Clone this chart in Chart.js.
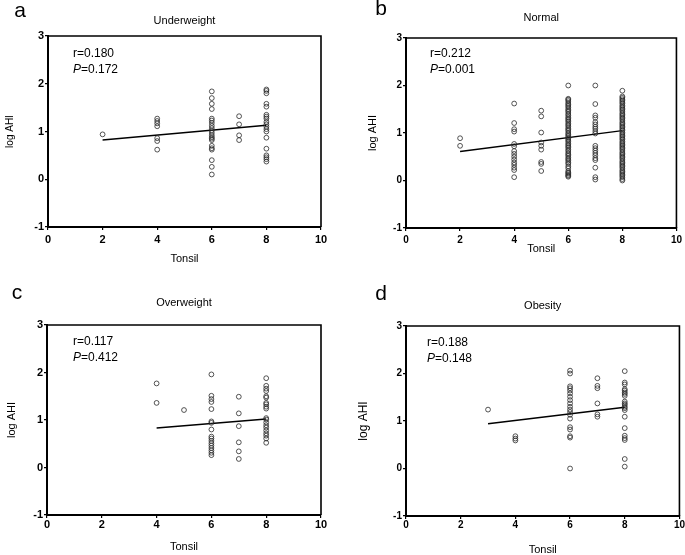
<!DOCTYPE html>
<html>
<head>
<meta charset="utf-8">
<script src="https://cdn.jsdelivr.net/npm/chart.js@4/dist/chart.umd.min.js"></script>
<style>
  html, body { margin: 0; padding: 0; background: #fff; }
  #page { position: relative; width: 685px; height: 555px; }
  .panel { position: absolute; }
</style>
</head>
<body>
<div id="page">
  <div class="panel" style="left:0;top:0;width:342px;height:278px"><canvas id="chartA"></canvas></div>
  <div class="panel" style="left:342px;top:0;width:343px;height:278px"><canvas id="chartB"></canvas></div>
  <div class="panel" style="left:0;top:278px;width:342px;height:277px"><canvas id="chartC"></canvas></div>
  <div class="panel" style="left:342px;top:278px;width:343px;height:277px"><canvas id="chartD"></canvas></div>
</div>
<script>
// axis ticks
const xTicks = [0, 2, 4, 6, 8, 10];
const yTicks = [-1, 0, 1, 2, 3];

// a: Underweight (log AHI by tonsil grade)
const uw2 = [0.94];
const uw4 = [1.27, 1.22, 1.17, 1.11, 0.86, 0.80, 0.62];
const uw6 = [1.84, 1.70, 1.58, 1.47, 1.27, 1.23, 1.18, 1.12, 1.07, 1.02, 0.97, 0.92, 0.88, 0.85, 0.82, 0.70, 0.65, 0.62, 0.40, 0.26, 0.10];
const uw7 = [1.32, 1.15, 0.92, 0.82];
const uw8 = [1.88, 1.85, 1.80, 1.58, 1.52, 1.35, 1.31, 1.27, 1.20, 1.15, 1.10, 1.05, 1.00, 0.87, 0.64, 0.50, 0.46, 0.42, 0.37];
const uwFitX = [2, 8];
const uwFitY = [0.82, 1.13];
const uwStats = ['r=0.180', '=0.172'];

// b: Normal
const nm2 = [0.89, 0.73];
const nm4 = [1.62, 1.21, 1.08, 1.03, 0.77, 0.72, 0.62, 0.56, 0.50, 0.44, 0.38, 0.33, 0.27, 0.22, 0.07];
const nm5 = [1.47, 1.35, 1.01, 0.80, 0.73, 0.65, 0.39, 0.35, 0.20];
const nm6 = [2.00, 1.72, 1.70, 1.67, 1.63, 1.60, 1.57, 1.54, 1.50, 1.47, 1.44, 1.40, 1.37, 1.33, 1.30, 1.27, 1.24, 1.20, 1.17, 1.14, 1.10, 1.07, 1.04, 1.00, 0.97, 0.94, 0.91, 0.88, 0.85, 0.82, 0.78, 0.75, 0.72, 0.69, 0.65, 0.62, 0.58, 0.55, 0.52, 0.48, 0.45, 0.42, 0.38, 0.35, 0.30, 0.26, 0.20, 0.17, 0.15, 0.12, 0.10, 0.08];
const nm7 = [2.00, 1.61, 1.37, 1.32, 1.23, 1.18, 1.13, 1.09, 1.04, 0.99, 0.73, 0.68, 0.63, 0.58, 0.53, 0.47, 0.43, 0.27, 0.07, 0.02];
const nm8 = [1.89, 1.77, 1.74, 1.71, 1.68, 1.65, 1.62, 1.58, 1.55, 1.52, 1.49, 1.46, 1.42, 1.39, 1.36, 1.33, 1.30, 1.27, 1.23, 1.20, 1.17, 1.14, 1.11, 1.08, 1.05, 1.01, 0.98, 0.95, 0.92, 0.89, 0.86, 0.82, 0.79, 0.76, 0.73, 0.70, 0.67, 0.64, 0.60, 0.57, 0.54, 0.51, 0.48, 0.45, 0.41, 0.38, 0.35, 0.32, 0.29, 0.26, 0.22, 0.19, 0.16, 0.13, 0.10, 0.07, 0.03, 0.00];
const nmFitX = [2, 8];
const nmFitY = [0.61, 1.05];
const nmStats = ['r=0.212', '=0.001'];

// c: Overweight
const ow4 = [1.77, 1.36];
const ow5 = [1.21];
const ow6 = [1.96, 1.51, 1.44, 1.38, 1.23, 0.97, 0.94, 0.80, 0.65, 0.61, 0.56, 0.51, 0.46, 0.41, 0.36, 0.31, 0.26];
const ow7 = [1.49, 1.14, 0.87, 0.53, 0.34, 0.18];
const ow8 = [1.88, 1.72, 1.66, 1.61, 1.50, 1.47, 1.36, 1.33, 1.28, 1.24, 1.04, 1.01, 0.95, 0.89, 0.84, 0.78, 0.72, 0.67, 0.61, 0.52];
const owFitX = [4, 8];
const owFitY = [0.83, 1.02];
const owStats = ['r=0.117', '=0.412'];

// d: Obesity
const ob3 = [1.24];
const ob4 = [0.68, 0.63, 0.59];
const ob6 = [2.06, 2.00, 1.73, 1.69, 1.64, 1.58, 1.51, 1.44, 1.37, 1.30, 1.24, 1.19, 1.13, 1.05, 0.87, 0.82, 0.68, 0.65, 0.00];
const ob7 = [1.90, 1.74, 1.69, 1.37, 1.14, 1.09];
const ob8 = [2.05, 1.81, 1.77, 1.67, 1.64, 1.60, 1.57, 1.53, 1.41, 1.37, 1.34, 1.30, 1.27, 1.23, 1.09, 0.85, 0.69, 0.64, 0.60, 0.20, 0.04];
const obFitX = [3, 8];
const obFitY = [0.94, 1.29];
const obStats = ['r=0.188', '=0.148'];

const FONT = 'Arial, "Liberation Sans", sans-serif';

function grade(x, values) {
    return values.map(v => ({ x: x, y: v }));
}

function fitLine(xs, ys) {
    return xs.map((x, i) => ({ x: x, y: ys[i] }));
}

// frame, panel letter and r / P text
const extrasPlugin = {
    id: 'extras',
    afterDraw(chart, args, opts) {
        const { ctx, chartArea: a } = chart;
        ctx.save();
        ctx.strokeStyle = '#000';
        ctx.lineWidth = 1.6;
        ctx.beginPath();
        ctx.moveTo(a.left, a.top);
        ctx.lineTo(a.right, a.top);
        ctx.lineTo(a.right, a.bottom);
        ctx.stroke();

        ctx.fillStyle = '#000';
        ctx.textBaseline = 'middle';
        ctx.textAlign = 'center';
        ctx.font = '21px ' + FONT;
        ctx.fillText(opts.letter, opts.letterX, opts.letterY);

        ctx.textAlign = 'left';
        ctx.font = '12px ' + FONT;
        const tx = a.left + opts.statsDx;
        ctx.fillText(opts.stats[0], tx, a.top + opts.statsDy);
        ctx.font = 'italic 12px ' + FONT;
        ctx.fillText('P', tx, a.top + opts.statsDy + 16);
        const pw = ctx.measureText('P').width;
        ctx.font = '12px ' + FONT;
        ctx.fillText(opts.stats[1], tx + pw, a.top + opts.statsDy + 16);
        ctx.restore();
    }
};

function makePanel(id, p) {
    const canvas = document.getElementById(id);
    const w = canvas.parentElement.clientWidth;
    const h = canvas.parentElement.clientHeight;

    const scatterSets = p.groups.map(g => ({
        type: 'scatter',
        data: grade(g[0], g[1]),
        pointRadius: 2.4,
        pointBorderWidth: 0.8,
        pointBorderColor: '#2a2a2a',
        pointBackgroundColor: 'rgba(0,0,0,0)',
        pointHoverRadius: 2.4
    }));

    new Chart(canvas, {
        type: 'scatter',
        data: {
            datasets: [
                ...scatterSets,
                {
                    type: 'line',
                    data: fitLine(p.fitX, p.fitY),
                    borderColor: '#000',
                    borderWidth: 1.5,
                    pointRadius: 0,
                    fill: false
                }
            ]
        },
        options: {
            responsive: true,
            maintainAspectRatio: false,
            animation: false,
            layout: { padding: { left: 0, right: w - p.area.right, top: 0, bottom: 0 } },
            plugins: {
                legend: { display: false },
                tooltip: { enabled: false },
                title: {
                    display: true,
                    text: p.title,
                    fullSize: false,
                    color: '#000',
                    font: { family: FONT, size: 11, weight: 'normal', lineHeight: 1.2 },
                    padding: { top: p.titleY - 6.6, bottom: p.area.top - p.titleY - 6.6 }
                },
                extras: {
                    letter: p.letter,
                    letterX: p.letterX,
                    letterY: p.letterY,
                    stats: p.stats,
                    statsDx: p.statsDx,
                    statsDy: p.statsDy
                }
            },
            scales: {
                x: {
                    type: 'linear',
                    min: xTicks[0],
                    max: xTicks[xTicks.length - 1],
                    afterBuildTicks: s => { s.ticks = xTicks.map(v => ({ value: v })); },
                    afterFit: s => { s.height = h - p.area.bottom; },
                    border: { display: true, color: '#000', width: 2 },
                    grid: { drawOnChartArea: false, drawTicks: true, tickLength: 3, color: '#000', lineWidth: 1.2 },
                    ticks: {
                        color: '#000',
                        padding: p.xTickPad,
                        maxRotation: 0,
                        font: { family: FONT, size: p.tickSize, weight: 'bold' }
                    },
                    title: {
                        display: true,
                        text: 'Tonsil',
                        color: '#000',
                        font: { family: FONT, size: 11, lineHeight: 1.2 },
                        padding: { top: 0, bottom: h - p.xTitleY - 6.6 }
                    }
                },
                y: {
                    type: 'linear',
                    min: yTicks[0],
                    max: yTicks[yTicks.length - 1],
                    afterBuildTicks: s => { s.ticks = yTicks.map(v => ({ value: v })); },
                    afterFit: s => { s.width = p.area.left; },
                    border: { display: true, color: '#000', width: 2 },
                    grid: { drawOnChartArea: false, drawTicks: true, tickLength: 3, color: '#000', lineWidth: 1.2 },
                    ticks: {
                        color: '#000',
                        padding: 1,
                        font: { family: FONT, size: p.tickSize, weight: 'bold' }
                    },
                    title: {
                        display: true,
                        text: 'log AHI',
                        color: '#000',
                        font: { family: FONT, size: p.yTitleSize, lineHeight: 1.2 },
                        padding: { top: p.yTitleX - p.yTitleSize * 0.6, bottom: 0 }
                    }
                }
            }
        },
        plugins: [extrasPlugin]
    });
}

makePanel('chartA', {
    title: 'Underweight', letter: 'a', letterX: 20, letterY: 11,
    groups: [[2, uw2], [4, uw4], [6, uw6], [7, uw7], [8, uw8]],
    fitX: uwFitX, fitY: uwFitY, stats: uwStats,
    area: { left: 48, right: 321, top: 36, bottom: 227 },
    titleY: 21, xTitleY: 259, yTitleX: 10, yTitleSize: 10, tickSize: 11, xTickPad: 3,
    statsDx: 25, statsDy: 18
});

makePanel('chartB', {
    title: 'Normal', letter: 'b', letterX: 39, letterY: 9,
    groups: [[2, nm2], [4, nm4], [5, nm5], [6, nm6], [7, nm7], [8, nm8]],
    fitX: nmFitX, fitY: nmFitY, stats: nmStats,
    area: { left: 64, right: 335, top: 38, bottom: 228 },
    titleY: 18, xTitleY: 249, yTitleX: 31, yTitleSize: 11, tickSize: 10, xTickPad: 3,
    statsDx: 24, statsDy: 16
});

makePanel('chartC', {
    title: 'Overweight', letter: 'c', letterX: 17, letterY: 15,
    groups: [[4, ow4], [5, ow5], [6, ow6], [7, ow7], [8, ow8]],
    fitX: owFitX, fitY: owFitY, stats: owStats,
    area: { left: 47, right: 321, top: 47, bottom: 237 },
    titleY: 25, xTitleY: 269, yTitleX: 12, yTitleSize: 11, tickSize: 11, xTickPad: 0,
    statsDx: 26, statsDy: 17
});

makePanel('chartD', {
    title: 'Obesity', letter: 'd', letterX: 39, letterY: 16,
    groups: [[3, ob3], [4, ob4], [6, ob6], [7, ob7], [8, ob8]],
    fitX: obFitX, fitY: obFitY, stats: obStats,
    area: { left: 64, right: 338, top: 48, bottom: 238 },
    titleY: 28, xTitleY: 272, yTitleX: 22, yTitleSize: 12, tickSize: 10, xTickPad: 0,
    statsDx: 21, statsDy: 17
});
</script>
</body>
</html>
